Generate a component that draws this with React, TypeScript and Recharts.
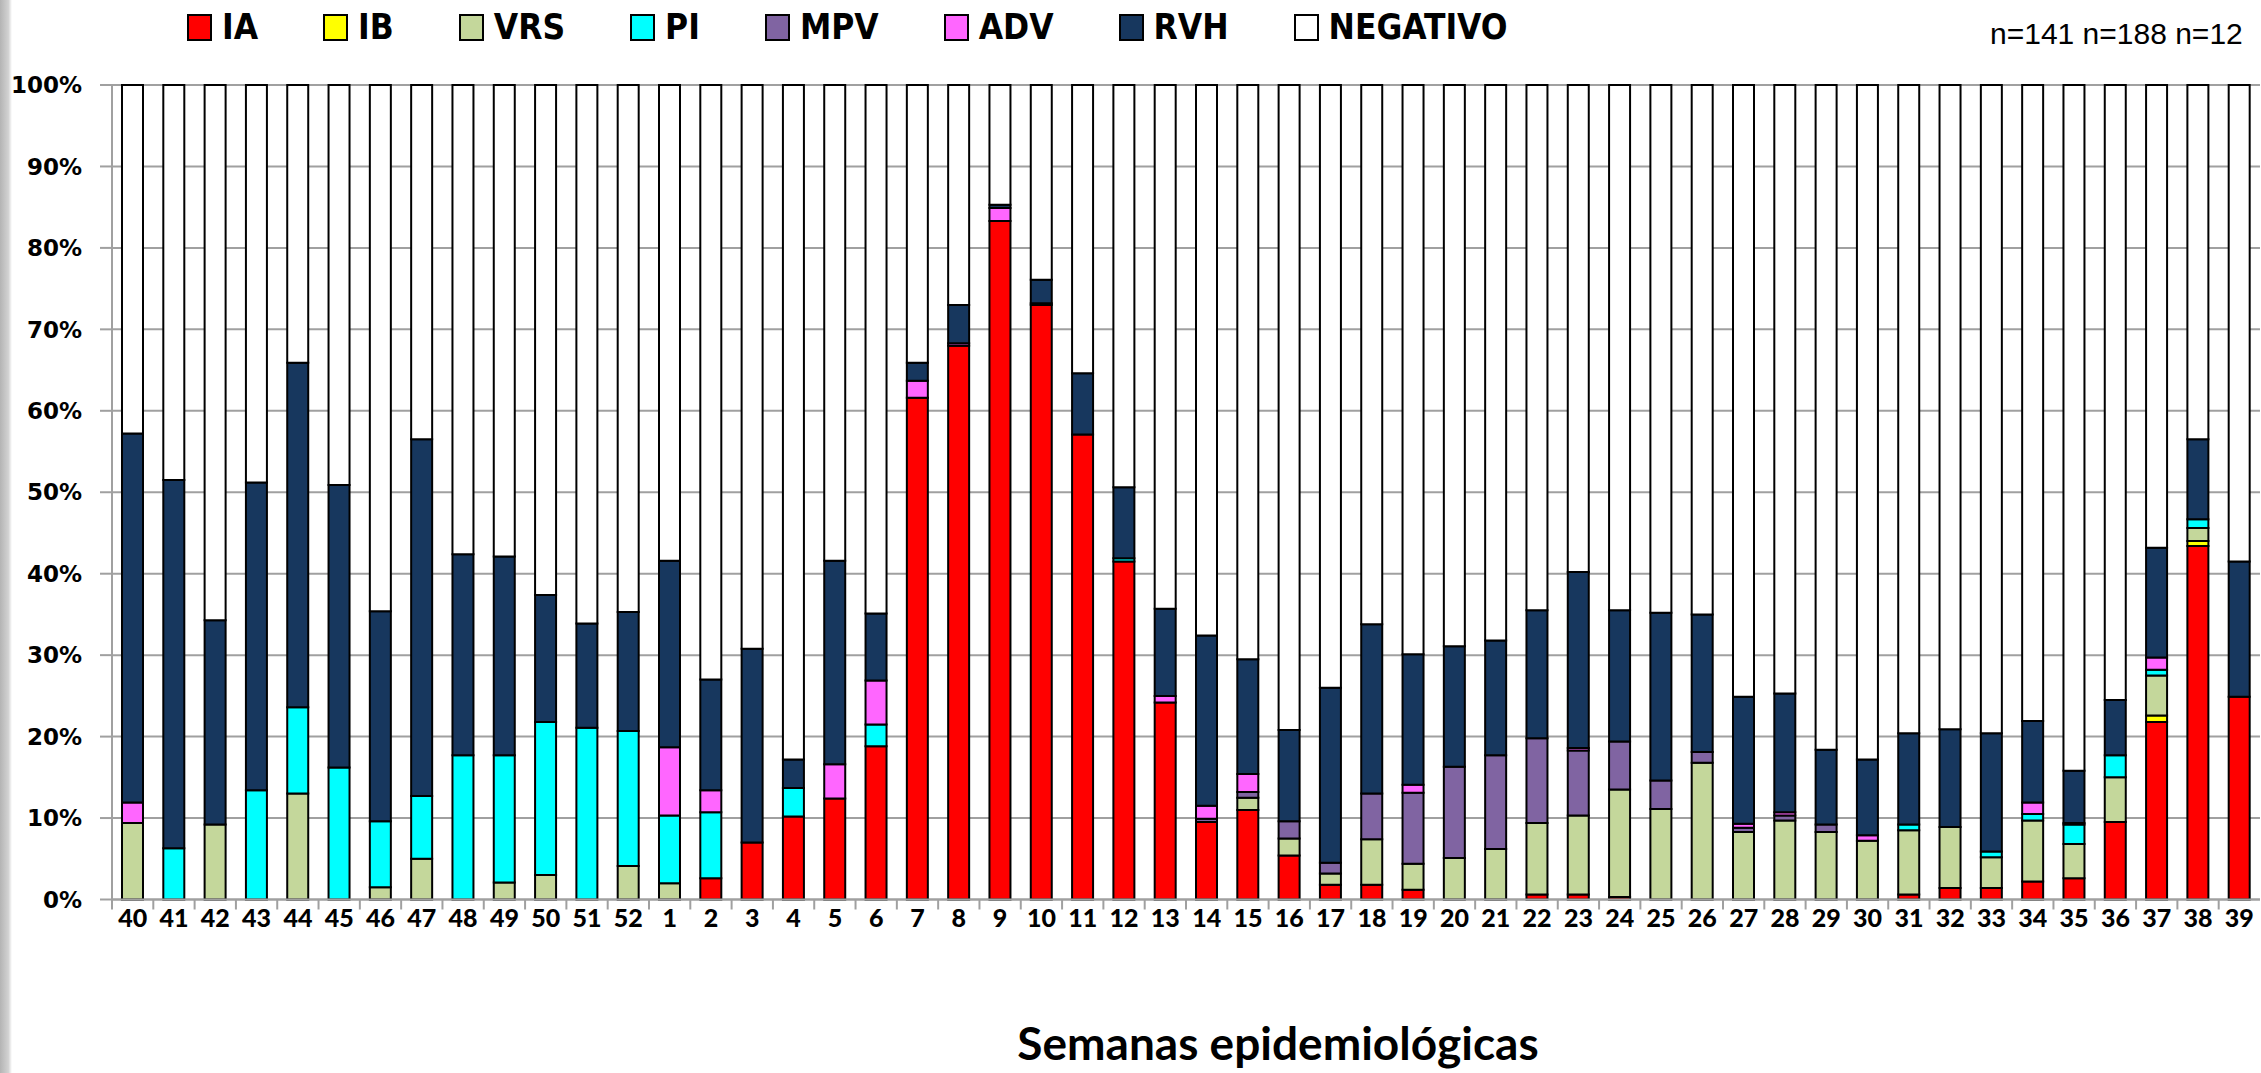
import { BarChart, Bar, XAxis, YAxis, CartesianGrid } from "recharts";

// semanas epidemiológicas 40..52 y 1..39
const weeks = [
  "40", "41", "42", "43", "44", "45", "46", "47", "48", "49", "50", "51", "52",
  "1", "2", "3", "4", "5", "6", "7", "8", "9", "10", "11", "12", "13",
  "14", "15", "16", "17", "18", "19", "20", "21", "22", "23", "24", "25", "26",
  "27", "28", "29", "30", "31", "32", "33", "34", "35", "36", "37", "38", "39",
];

// % de muestras por virus (segmentos apilados)
const ia = [
  0, 0, 0, 0, 0, 0, 0, 0, 0, 0, 0, 0, 0,
  0, 2.6, 7.0, 10.2, 12.4, 18.8, 61.6, 68.0, 83.3, 73.0, 57.1, 41.5, 24.2,
  9.5, 11.0, 5.4, 1.8, 1.8, 1.2, 0, 0, 0.6, 0.6, 0.3, 0, 0,
  0, 0, 0, 0, 0.6, 1.4, 1.4, 2.2, 2.6, 9.5, 21.8, 43.4, 24.9,
];
const ib = [
  0, 0, 0, 0, 0, 0, 0, 0, 0, 0, 0, 0, 0,
  0, 0, 0, 0, 0, 0, 0, 0, 0, 0, 0, 0, 0,
  0, 0, 0, 0, 0, 0, 0, 0, 0, 0, 0, 0, 0,
  0, 0, 0, 0, 0, 0, 0, 0, 0, 0, 0.8, 0.6, 0,
];
const vrs = [
  9.4, 0, 9.2, 0, 13.0, 0, 1.5, 5.0, 0, 2.1, 3.0, 0, 4.1,
  2.0, 0, 0, 0, 0, 0, 0, 0, 0, 0, 0, 0, 0,
  0, 1.5, 2.1, 1.4, 5.6, 3.2, 5.1, 6.2, 8.8, 9.7, 13.2, 11.1, 16.8,
  8.3, 9.7, 8.3, 7.2, 7.9, 7.5, 3.8, 7.5, 4.2, 5.5, 4.9, 1.6, 0,
];
const pi = [
  0, 6.3, 0, 13.4, 10.6, 16.2, 8.1, 7.7, 17.7, 15.6, 18.8, 21.1, 16.6,
  8.3, 8.1, 0, 3.5, 0, 2.7, 0, 0, 0, 0, 0, 0.4, 0,
  0, 0, 0, 0, 0, 0, 0, 0, 0, 0, 0, 0, 0,
  0, 0, 0, 0, 0.7, 0, 0.7, 0.8, 2.4, 2.7, 0.7, 1.1, 0,
];
const mpv = [
  0, 0, 0, 0, 0, 0, 0, 0, 0, 0, 0, 0, 0,
  0, 0, 0, 0, 0, 0, 0, 0, 0, 0.2, 0, 0, 0,
  0.4, 0.7, 2.1, 1.3, 5.6, 8.7, 11.2, 11.5, 10.4, 8.0, 5.9, 3.5, 1.3,
  0.5, 0.6, 0.9, 0, 0, 0, 0, 0, 0.2, 0, 0, 0, 0,
];
const adv = [
  2.5, 0, 0, 0, 0, 0, 0, 0, 0, 0, 0, 0, 0,
  8.4, 2.7, 0, 0, 4.2, 5.4, 2.1, 0.3, 1.6, 0, 0, 0, 0.8,
  1.6, 2.2, 0, 0, 0, 1.0, 0, 0, 0, 0.3, 0, 0, 0,
  0.5, 0.4, 0, 0.7, 0, 0, 0, 1.4, 0, 0, 1.5, 0, 0,
];
const rvh = [
  45.3, 45.2, 25.1, 37.8, 42.3, 34.7, 25.8, 43.8, 24.7, 24.4, 15.6, 12.8, 14.6,
  22.9, 13.6, 23.8, 3.5, 25.0, 8.2, 2.2, 4.7, 0.4, 2.9, 7.5, 8.7, 10.7,
  20.9, 14.1, 11.2, 21.5, 20.8, 16.0, 14.8, 14.1, 15.7, 21.6, 16.1, 20.6, 16.9,
  15.6, 14.6, 9.2, 9.3, 11.2, 12.0, 14.5, 10.0, 6.4, 6.8, 13.5, 9.8, 16.6,
];

const yTicks = [0, 10, 20, 30, 40, 50, 60, 70, 80, 90, 100];

const series = [
  { key: "IA", color: "#FF0000", values: ia },
  { key: "IB", color: "#FFFF00", values: ib },
  { key: "VRS", color: "#C4D79B", values: vrs },
  { key: "PI", color: "#00FFFF", values: pi },
  { key: "MPV", color: "#8064A2", values: mpv },
  { key: "ADV", color: "#FF66FF", values: adv },
  { key: "RVH", color: "#17375E", values: rvh },
];

const data = weeks.map((week, i) => {
  const row: Record<string, string | number> = { week };
  let sum = 0;
  series.forEach((s) => {
    row[s.key] = s.values[i];
    sum += s.values[i];
  });
  row.NEGATIVO = Math.max(0, +(100 - sum).toFixed(1));
  return row;
});

const allSeries = [...series, { key: "NEGATIVO", color: "#FFFFFF", values: [] as number[] }];

const W = 2261;
const H = 1073;
const PLOT_LEFT = 112;
const PLOT_RIGHT = 2260;
const BAND = (PLOT_RIGHT - PLOT_LEFT) / weeks.length;
const GRID = "#a0a0a0";

function WeekTick({ x, y, payload }: any) {
  return (
    <g>
      <line x1={x - BAND / 2} x2={x - BAND / 2} y1={y - 10} y2={y} stroke={GRID} strokeWidth={2} />
      <text
        x={x}
        y={y}
        dy="0.71em"
        textAnchor="middle"
        fontFamily="Lato, 'Open Sans', sans-serif"
        fontWeight={900}
        fontSize={25}
        fill="#000"
      >
        {payload.value}
      </text>
    </g>
  );
}

export default function App() {
  return (
    <div
      style={{
        position: "absolute",
        left: 0,
        top: 0,
        width: W,
        height: H,
        background: "#fff",
        overflow: "hidden",
      }}
    >
      <div
        style={{
          position: "absolute",
          left: 0,
          top: 0,
          width: 12,
          height: H,
          background: "linear-gradient(to right, #b4b4b4, #d2d2d2 70%, #fff)",
        }}
      />

      {/* leyenda */}
      <div
        style={{
          position: "absolute",
          left: 187,
          top: 7,
          height: 40,
          display: "flex",
          alignItems: "center",
          gap: 65,
        }}
      >
        {allSeries.map((s) => (
          <div key={s.key} style={{ display: "flex", alignItems: "center", gap: 10 }}>
            <div
              style={{
                width: 21,
                height: 23,
                background: s.color,
                border: "2px solid #000",
              }}
            />
            <span
              style={{
                fontFamily: "'DejaVu Sans Condensed', 'DejaVu Sans', sans-serif",
                fontStretch: "condensed",
                fontWeight: "bold",
                fontSize: 35,
                lineHeight: 1,
                color: "#000",
              }}
            >
              {s.key}
            </span>
          </div>
        ))}
      </div>

      <div
        style={{
          position: "absolute",
          left: 1990,
          top: 19,
          fontFamily: "'Liberation Sans', Arial, sans-serif",
          fontSize: 30,
          lineHeight: 1,
          whiteSpace: "nowrap",
          color: "#000",
        }}
      >
        n=141 n=188 n=12
      </div>

      <div style={{ position: "absolute", left: 0, top: 0 }}>
        <BarChart
          width={W}
          height={H}
          data={data}
          margin={{ top: 85, right: W - PLOT_RIGHT, bottom: 113.5, left: 0 }}
          barSize={21}
        >
          <CartesianGrid vertical={false} stroke={GRID} strokeWidth={2} />
          <XAxis
            dataKey="week"
            interval={0}
            height={60}
            tickSize={10}
            tickMargin={0}
            tickLine={false}
            axisLine={{ stroke: GRID, strokeWidth: 2 }}
            tick={<WeekTick />}
          />
          <YAxis
            type="number"
            domain={[0, 100]}
            ticks={yTicks}
            interval={0}
            width={PLOT_LEFT}
            tickSize={12}
            tickMargin={18}
            tickFormatter={(v: number) => `${v}%`}
            axisLine={{ stroke: GRID, strokeWidth: 2 }}
            tickLine={{ stroke: GRID, strokeWidth: 2 }}
            tick={{
              fontFamily: "'DejaVu Sans', Verdana, sans-serif",
              fontWeight: "bold",
              fontSize: 23,
              fill: "#000",
            }}
          />
          {allSeries.map((s) => (
            <Bar
              key={s.key}
              dataKey={s.key}
              stackId="a"
              fill={s.color}
              stroke="#000"
              strokeWidth={2}
              isAnimationActive={false}
            />
          ))}
        </BarChart>
      </div>

      <div
        style={{
          position: "absolute",
          left: 1278 - 400,
          width: 800,
          top: 1020,
          textAlign: "center",
          fontFamily: "Lato, 'Open Sans', sans-serif",
          fontWeight: "bold",
          fontSize: 46,
          lineHeight: 1,
          color: "#000",
          whiteSpace: "nowrap",
        }}
      >
        Semanas epidemiológicas
      </div>
    </div>
  );
}
